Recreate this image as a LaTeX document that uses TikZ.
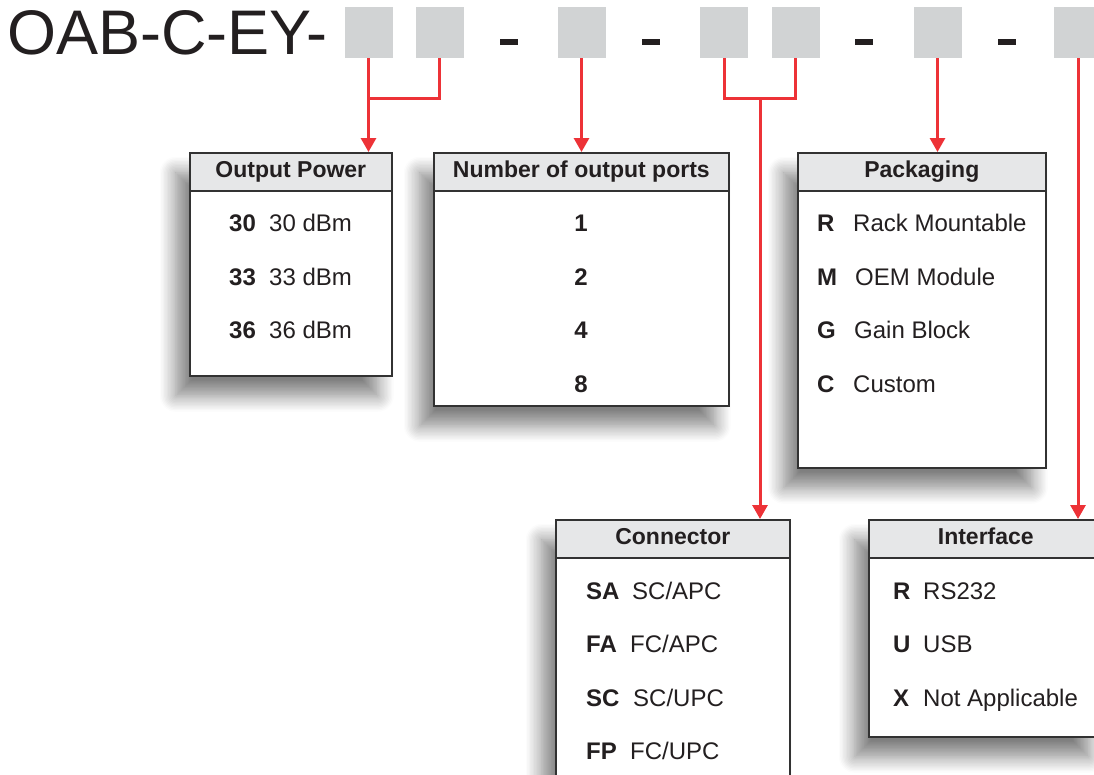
\documentclass[tikz,border=0pt]{standalone}
\usepackage{fontspec}
\setmainfont{Liberation Sans}
\usetikzlibrary{arrows.meta,shadows.blur}
\definecolor{rot}{RGB}{237,50,55}
\definecolor{feldgrau}{RGB}{209,211,212}
\definecolor{kopfgrau}{RGB}{230,231,232}
\definecolor{rahmen}{RGB}{50,50,50}
\definecolor{schrift}{RGB}{35,31,32}
\newcommand\zeile[3]{\makebox[#1][l]{\textbf{#2}}#3}
\tikzset {
titel/.style={anchor=base west,inner sep=0pt,font=\fontsize{63}{70}\selectfont},
strich/.style={shape=rectangle,fill=schrift,minimum width=18pt,minimum height=6pt,inner sep=0pt},
feld/.style={shape=rectangle,fill=feldgrau,minimum width=48pt,minimum height=51pt,inner sep=0pt},
kasten/.style={shape=rectangle,draw=rahmen,line width=1.6pt,fill=white,anchor=north west,inner sep=0pt,
  blur shadow={shadow xshift=-14pt,shadow yshift=-20pt,shadow blur radius=16pt,shadow blur steps=12,shadow opacity=50}},
kopf/.style={shape=rectangle,draw=rahmen,line width=1.6pt,fill=kopfgrau,anchor=north west,minimum height=38pt,
  inner sep=0pt,text height=17pt,text depth=5pt,font=\fontsize{23}{26}\selectfont\bfseries},
eintrag/.style={anchor=base west,inner sep=0pt,font=\fontsize{24}{28}\selectfont},
linie/.style={draw=rot,line width=3pt}
}

\begin{document}
\begin{tikzpicture}
[x=1pt,y=-1pt,>={Triangle[width=15pt,length=14pt]},color=schrift]
\clip (0,0) rectangle (1094,774);
% Typenschluessel
\node[titel] (titel) at (7,54) {OAB-C-EY-};
\node[feld] (feld1) at (368.5,32.5) {};
\node[feld] (feld2) at (439.5,32.5) {};
\node[strich] (strich1) at (509,42) {};
\node[feld] (feld3) at (581.5,32.5) {};
\node[strich] (strich2) at (651,42) {};
\node[feld] (feld4) at (724,32.5) {};
\node[feld] (feld5) at (795.5,32.5) {};
\node[strich] (strich3) at (864,42) {};
\node[feld] (feld6) at (937.5,32.5) {};
\node[strich] (strich4) at (1007,42) {};
\node[feld] (feld7) at (1078,32.5) {};

% Tabellen
\node[kasten,minimum width=202pt,minimum height=223pt] (leistung) at (189,152) {};
\node[kopf,minimum width=202pt] (leistung kopf) at (189,152) {Output Power};
\node[eintrag] (leistung 30) at (229,231) {\zeile{40pt}{30}{30 dBm}};
\node[eintrag] (leistung 33) at (229,285) {\zeile{40pt}{33}{33 dBm}};
\node[eintrag] (leistung 36) at (229,338) {\zeile{40pt}{36}{36 dBm}};

\node[kasten,minimum width=295pt,minimum height=253pt] (anschluesse) at (433,152) {};
\node[kopf,minimum width=295pt] (anschluesse kopf) at (433,152) {Number of output ports};
\node[eintrag,anchor=base] (anschluesse 1) at (581,231) {\textbf{1}};
\node[eintrag,anchor=base] (anschluesse 2) at (581,285) {\textbf{2}};
\node[eintrag,anchor=base] (anschluesse 4) at (581,338) {\textbf{4}};
\node[eintrag,anchor=base] (anschluesse 8) at (581,392) {\textbf{8}};

\node[kasten,minimum width=248pt,minimum height=315pt] (verpackung) at (797,152) {};
\node[kopf,minimum width=248pt] (verpackung kopf) at (797,152) {Packaging};
\node[eintrag] (verpackung R) at (817,231) {\zeile{36pt}{R}{Rack Mountable}};
\node[eintrag] (verpackung M) at (817,285) {\zeile{38pt}{M}{OEM Module}};
\node[eintrag] (verpackung G) at (817,338) {\zeile{37pt}{G}{Gain Block}};
\node[eintrag] (verpackung C) at (817,392) {\zeile{36pt}{C}{Custom}};

\node[kasten,minimum width=234pt,minimum height=300pt] (stecker) at (555,519) {};
\node[kopf,minimum width=234pt] (stecker kopf) at (555,519) {Connector};
\node[eintrag] (stecker SA) at (586,599) {\zeile{46pt}{SA}{SC/APC}};
\node[eintrag] (stecker FA) at (586,652) {\zeile{44pt}{FA}{FC/APC}};
\node[eintrag] (stecker SC) at (586,706) {\zeile{47pt}{SC}{SC/UPC}};
\node[eintrag] (stecker FP) at (586,759) {\zeile{44pt}{FP}{FC/UPC}};

\node[kasten,minimum width=234pt,minimum height=217pt] (schnittstelle) at (868,519) {};
\node[kopf,minimum width=234pt] (schnittstelle kopf) at (868,519) {Interface};
\node[eintrag] (schnittstelle R) at (893,599) {\zeile{30pt}{R}{RS232}};
\node[eintrag] (schnittstelle U) at (893,652) {\zeile{30pt}{U}{USB}};
\node[eintrag] (schnittstelle X) at (893,706) {\zeile{30pt}{X}{Not Applicable}};

% Verbindungen
\coordinate (knoten1) at (368.5,98);
\coordinate (knoten2) at (760,98);
\draw[linie] (feld1.south) -- (knoten1) -| (feld2.south);
\draw[linie,->] (knoten1) -- (knoten1 |- leistung.north);
\draw[linie,->] (feld3.south) -- (feld3.south |- anschluesse.north);
\draw[linie] (feld4.south) |- (knoten2) -| (feld5.south);
\draw[linie,->] (knoten2) -- (knoten2 |- stecker.north);
\draw[linie,->] (feld6.south) -- (feld6.south |- verpackung.north);
\draw[linie,->] (feld7.south) -- (feld7.south |- schnittstelle.north);
\end{tikzpicture}
\end{document}
